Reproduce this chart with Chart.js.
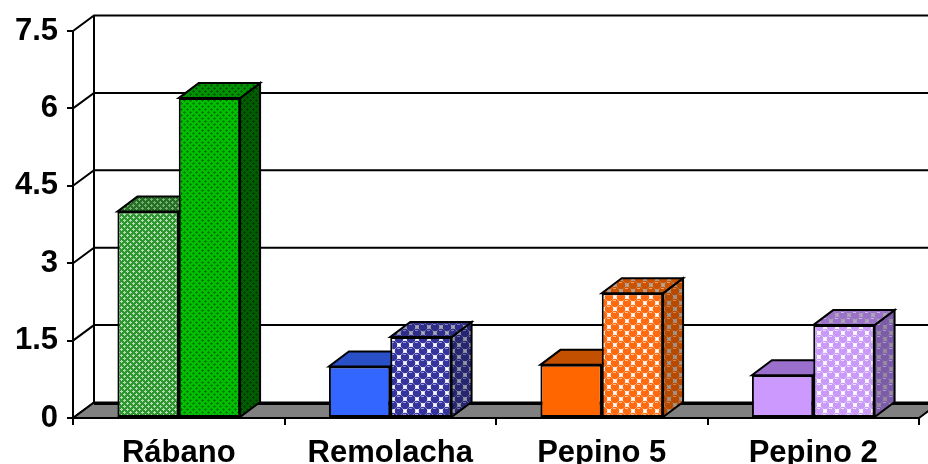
<!DOCTYPE html>
<html>
<head>
<meta charset="utf-8">
<script src="https://cdn.jsdelivr.net/npm/chart.js@4/dist/chart.umd.min.js"></script>
<style>
  html, body { margin: 0; padding: 0; background: #fff; }
  #wrap { width: 928px; height: 464px; }
</style>
</head>
<body>
<div id="wrap"><canvas id="c" width="928" height="464"></canvas></div>
<script>
// Crop values per category (two measurements each)
const categories = ['Rábano', 'Remolacha', 'Pepino 5', 'Pepino 2'];
const seriesA = [4.0, 1.0, 1.03, 0.83];
const seriesB = [6.2, 1.57, 2.42, 1.8];
const yTicks = [0, 1.5, 3, 4.5, 6, 7.5];

// depth of the 3D box (walls / floor) and of each bar
const WALL_DX = 21, WALL_DY = -15.5;
const BAR_DX = 20, BAR_DY = -15;

function tile(w, h, draw) {
  const c = document.createElement('canvas');
  c.width = w; c.height = h;
  draw(c.getContext('2d'));
  return c.getContext('2d').createPattern(c, 'repeat');
}

// small lattice texture (green bars)
function lattice(bg, fg) {
  return tile(6, 6, g => {
    g.fillStyle = bg; g.fillRect(0, 0, 6, 6);
    g.fillStyle = fg;
    g.fillRect(1, 0, 1, 1); g.fillRect(0, 1, 3, 1); g.fillRect(1, 2, 1, 1);
    g.fillRect(4, 3, 1, 1); g.fillRect(3, 4, 3, 1); g.fillRect(4, 5, 1, 1);
  });
}

// sphere texture
function spheres(bg, ball, hi) {
  return tile(12, 12, g => {
    g.fillStyle = bg; g.fillRect(0, 0, 12, 12);
    const centers = [[3, 3], [9, 9], [9, -3], [-3, 9], [15, 3], [3, 15], [-3, -3], [15, 15], [15, -3], [-3, 15]];
    centers.forEach(([x, y]) => {
      g.fillStyle = ball;
      g.beginPath(); g.arc(x, y, 4.3, 0, Math.PI * 2); g.fill();
      g.fillStyle = hi;
      g.fillRect(x - 2, y - 3, 3, 1);
    });
  });
}

const styles = [
  // seriesA
  [
    { front: lattice('#2e962e', '#b4dcb4'), top: lattice('#257025', '#79ae79'), side: lattice('#1d5f1d', '#5d8f5d') },
    { front: '#3366ff', top: '#2a50c8', side: '#1f3c99' },
    { front: '#ff6600', top: '#c25000', side: '#994000' },
    { front: '#cc99ff', top: '#9a70cc', side: '#7d5aa8' }
  ],
  // seriesB
  [
    { front: lattice('#00c000', '#007e00'), top: lattice('#009400', '#005c00'), side: lattice('#006000', '#003a00') },
    { front: spheres('#ffffff', '#34349c', '#9a9ad8'), top: spheres('#a8a8b4', '#2e2e88', '#8080c0'), side: spheres('#9a9aa6', '#262670', '#6a6aa8') },
    { front: spheres('#ffffff', '#ff6a10', '#ffc090'), top: spheres('#b0a8a0', '#cc5200', '#ff9a60'), side: spheres('#a09890', '#b84a00', '#e08040') },
    { front: spheres('#ffffff', '#c99af8', '#f0e0ff'), top: spheres('#b0a8b8', '#9a72c8', '#d0b8f0'), side: spheres('#9890a0', '#7c5ca8', '#b098d0') }
  ]
];

function poly(ctx, pts, fill) {
  ctx.beginPath();
  ctx.moveTo(pts[0][0], pts[0][1]);
  for (let i = 1; i < pts.length; i++) ctx.lineTo(pts[i][0], pts[i][1]);
  ctx.closePath();
  if (fill) { ctx.fillStyle = fill; ctx.fill(); }
  ctx.stroke();
}

const box3d = {
  id: 'box3d',
  beforeDatasetsDraw(chart) {
    const ctx = chart.ctx;
    const ca = chart.chartArea;
    const ys = chart.scales.y;
    ctx.save();
    ctx.strokeStyle = '#000';
    ctx.lineWidth = 2;
    ctx.lineJoin = 'miter';

    // back wall gridlines + diagonals on the left wall
    yTicks.forEach(v => {
      const y = ys.getPixelForValue(v);
      ctx.beginPath();
      ctx.moveTo(ca.left, y);
      ctx.lineTo(ca.left + WALL_DX, y + WALL_DY);
      if (v !== 0) ctx.lineTo(ca.right + WALL_DX, y + WALL_DY);
      ctx.stroke();
    });
    // back wall left edge
    ctx.beginPath();
    ctx.moveTo(ca.left + WALL_DX, ca.top + WALL_DY);
    ctx.lineTo(ca.left + WALL_DX, ca.bottom + WALL_DY);
    ctx.stroke();

    // floor
    const fb = ca.bottom;
    poly(ctx, [[ca.left, fb], [ca.right, fb], [ca.right + WALL_DX, fb + WALL_DY], [ca.left + WALL_DX, fb + WALL_DY]], '#808080');
    ctx.lineWidth = 3;
    ctx.beginPath();
    ctx.moveTo(ca.left + WALL_DX, fb + WALL_DY + 1);
    ctx.lineTo(ca.right + WALL_DX, fb + WALL_DY + 1);
    ctx.stroke();
    ctx.lineWidth = 2;

    // bar sides and tops
    for (let j = 0; j < categories.length; j++) {
      for (let d = 0; d < 2; d++) {
        const el = chart.getDatasetMeta(d).data[j];
        const x0 = el.x - el.width / 2, x1 = el.x + el.width / 2;
        const yt = el.y, yb = el.base;
        const st = styles[d][j];
        poly(ctx, [[x1, yt], [x1 + BAR_DX, yt + BAR_DY], [x1 + BAR_DX, yb + BAR_DY], [x1, yb]], st.side);
        poly(ctx, [[x0, yt], [x1, yt], [x1 + BAR_DX, yt + BAR_DY], [x0 + BAR_DX, yt + BAR_DY]], st.top);
      }
    }
    ctx.restore();
  }
};

const font = { family: '"Liberation Sans", Arial, sans-serif', weight: 'bold' };

new Chart(document.getElementById('c'), {
  type: 'bar',
  data: {
    labels: categories,
    datasets: [
      { data: seriesA, backgroundColor: styles[0].map(s => s.front), borderColor: '#000', borderWidth: 2, borderSkipped: false },
      { data: seriesB, backgroundColor: styles[1].map(s => s.front), borderColor: '#000', borderWidth: 2, borderSkipped: false }
    ]
  },
  options: {
    responsive: false,
    animation: false,
    devicePixelRatio: 1,
    layout: { padding: { top: 31, right: 9, left: 0, bottom: 0 } },
    plugins: { legend: { display: false }, tooltip: { enabled: false } },
    datasets: { bar: { categoryPercentage: 0.58, barPercentage: 1.0 } },
    scales: {
      x: {
        offset: true,
        grid: { offset: true, drawOnChartArea: false, drawTicks: true, tickLength: 7, color: '#000', lineWidth: 2 },
        border: { display: true, color: '#000', width: 2 },
        ticks: { color: '#000', font: { ...font, size: 31 }, padding: 10, maxRotation: 0 },
        afterFit(s) { s.height = 46; }
      },
      y: {
        min: 0, max: 7.5,
        grid: { drawOnChartArea: false, drawTicks: true, tickLength: 6, color: '#000', lineWidth: 2 },
        border: { display: true, color: '#000', width: 2 },
        ticks: { stepSize: 1.5, color: '#000', font: { ...font, size: 31 }, padding: 9, callback: v => String(v) },
        afterFit(s) { s.width = 73; }
      }
    }
  },
  plugins: [box3d]
});
</script>
</body>
</html>
